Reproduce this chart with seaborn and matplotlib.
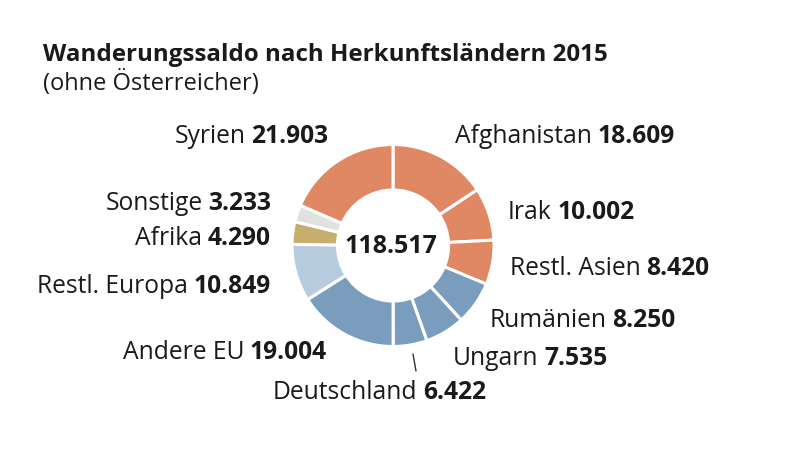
import matplotlib
matplotlib.use("Agg")
import matplotlib.pyplot as plt
import seaborn as sns
from matplotlib.lines import Line2D

sns.set_theme(style="white")
plt.rcParams['font.family'] = ['Open Sans', 'DejaVu Sans']

# ---- data ----
categories = ["Afghanistan", "Irak", "Restl. Asien", "Rumänien", "Ungarn",
              "Deutschland", "Andere EU", "Restl. Europa", "Afrika",
              "Sonstige", "Syrien"]
values = [18609, 10002, 8420, 8250, 7535, 6422, 19004, 10849, 4290, 3233, 21903]
groups = ["asia", "asia", "asia", "eu", "eu", "eu", "eu", "europe",
          "africa", "other", "asia"]
title = "Wanderungssaldo nach Herkunftsländern 2015"
subtitle = "(ohne Österreicher)"

group_colors = {"asia": "#E08764", "eu": "#7A9CBD", "europe": "#B6CBDE",
                "africa": "#C8AE6E", "other": "#E1E1E1"}

def de_fmt(v):
    return f"{v:,}".replace(",", ".")

# label layout (pixel anchor x, baseline y, alignment)
label_pos = {
    "Afghanistan": (455, 143, "left"),
    "Irak": (508, 219, "left"),
    "Restl. Asien": (510, 275, "left"),
    "Rumänien": (490, 327, "left"),
    "Ungarn": (453, 365, "left"),
    "Deutschland": (273, 399, "left"),
    "Andere EU": (327, 359, "right"),
    "Restl. Europa": (271, 293, "right"),
    "Afrika": (271, 245, "right"),
    "Sonstige": (271, 210, "right"),
    "Syrien": (328, 143, "right"),
}

W, H = 800, 452
fig = plt.figure(figsize=(W / 100, H / 100), dpi=100)
fig.patch.set_facecolor("white")

cx, cy, r = 393, 246.5, 101
ax = fig.add_axes([(cx - r) / W, (H - cy - r) / H, 2 * r / W, 2 * r / H])
colors = [group_colors[g] for g in groups]
ax.pie(values, colors=colors, startangle=90, counterclock=False, radius=1,
       wedgeprops=dict(width=0.45, edgecolor="white", linewidth=2.2))
ax.set_xlim(-1, 1)
ax.set_ylim(-1, 1)
ax.set_aspect("equal")
ax.axis("off")

txt_color = "#1a1a1a"
fs = 17.7

def fx(x):
    return x / W

def fy(y):
    return 1 - y / H

for cat, val in zip(categories, values):
    x, yb, align = label_pos[cat]
    if align == "right":
        num = fig.text(fx(x), fy(yb), de_fmt(val), ha="right", va="baseline",
                       fontsize=fs, fontweight="bold", color=txt_color)
        fig.add_artist(matplotlib.text.Annotation(
            cat, xy=(0, fy(yb)), xycoords=(num, "figure fraction"),
            xytext=(-4.0, 0), textcoords="offset points",
            ha="right", va="baseline", fontsize=fs, color=txt_color))
    else:
        name = fig.text(fx(x), fy(yb), cat, ha="left", va="baseline",
                        fontsize=fs, color=txt_color)
        fig.add_artist(matplotlib.text.Annotation(
            de_fmt(val), xy=(1, fy(yb)), xycoords=(name, "figure fraction"),
            xytext=(4.0, 0), textcoords="offset points",
            ha="left", va="baseline", fontsize=fs, fontweight="bold",
            color=txt_color))

# total in the centre
fig.text(fx(391), fy(253), de_fmt(sum(values)), ha="center", va="baseline",
         fontsize=18, fontweight="bold", color=txt_color)

# leader line for Deutschland
fig.add_artist(Line2D([fx(413), fx(416)], [fy(355), fy(372)],
                      transform=fig.transFigure, color="#333333", lw=1))

fig.text(fx(43), fy(61), title, ha="left", va="baseline", fontsize=17.4,
         fontweight="bold", color=txt_color)
fig.text(fx(43), fy(90), subtitle, ha="left", va="baseline", fontsize=17,
         color=txt_color)

fig.savefig("out.png", dpi=100, facecolor="white")
